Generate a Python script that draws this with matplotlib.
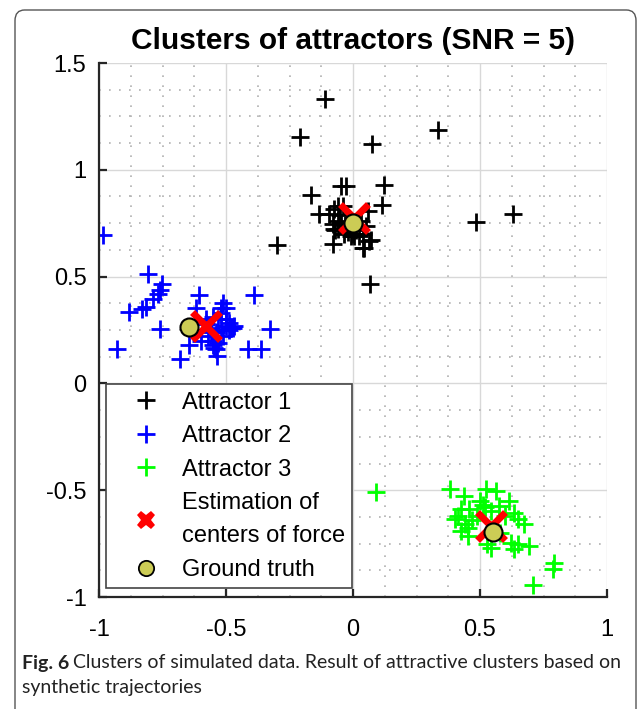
import numpy as np
import matplotlib.pyplot as plt
from matplotlib.lines import Line2D
from matplotlib.patches import FancyBboxPatch
from matplotlib.ticker import MultipleLocator

# Attractor 1 (black)
x1 = [-0.11, -0.21, 0.075, 0.335, -0.30, -0.165, -0.047, -0.028, 0.123, 0.114,
      -0.133, -0.093, -0.073, 0.484, 0.631, -0.078, 0.045, 0.071, 0.068, -0.06,
      -0.07, -0.008, 0.025, 0.051, -0.047, -0.06, -0.04, -0.02, 0.0, -0.03,
      0.01, -0.05, 0.03, -0.08, -0.073, -0.035, 0.004, 0.038, 0.064, 0.038,
      0.058, -0.06]
y1 = [1.33, 1.155, 1.12, 1.185, 0.648, 0.88, 0.924, 0.924, 0.927, 0.834,
      0.793, 0.793, 0.815, 0.757, 0.795, 0.651, 0.636, 0.67, 0.467, 0.721,
      0.72, 0.69, 0.69, 0.737, 0.752, 0.83, 0.83, 0.71, 0.70, 0.74,
      0.72, 0.79, 0.76, 0.745, 0.721, 0.698, 0.69, 0.698, 0.666, 0.636,
      0.807, 0.76]

# Attractor 2 (blue)
x2 = [-0.983, -0.806, -0.752, -0.758, -0.769, -0.787, -0.815, -0.831, -0.881, -0.758,
      -0.929, -0.605, -0.618, -0.52, -0.50, -0.389, -0.326, -0.415, -0.362, -0.68,
      -0.644, -0.539, -0.537, -0.56, -0.54, -0.52, -0.50, -0.51, -0.55, -0.57,
      -0.53, -0.49, -0.48, -0.50, -0.52, -0.55, -0.58, -0.60, -0.55, -0.53,
      -0.47, -0.56, -0.58, -0.513, -0.487, -0.474, -0.546]
y2 = [0.695, 0.514, 0.464, 0.436, 0.417, 0.393, 0.359, 0.347, 0.336, 0.253,
      0.162, 0.412, 0.354, 0.354, 0.354, 0.412, 0.253, 0.162, 0.162, 0.115,
      0.178, 0.159, 0.13, 0.26, 0.24, 0.25, 0.27, 0.22, 0.20, 0.22,
      0.30, 0.25, 0.26, 0.30, 0.33, 0.31, 0.30, 0.20, 0.18, 0.19,
      0.27, 0.24, 0.28, 0.378, 0.284, 0.261, 0.167]

# Attractor 3 (green)
x3 = [0.09, 0.382, 0.436, 0.524, 0.563, 0.501, 0.615, 0.425, 0.458, 0.412,
      0.402, 0.451, 0.543, 0.52, 0.633, 0.648, 0.672, 0.622, 0.648, 0.694,
      0.635, 0.528, 0.543, 0.793, 0.786, 0.71, 0.576, 0.60, 0.425, 0.454,
      0.47, 0.49, 0.44, 0.51, 0.58]
y3 = [-0.51, -0.496, -0.525, -0.496, -0.504, -0.551, -0.551, -0.59, -0.59, -0.621,
      -0.637, -0.676, -0.598, -0.58, -0.606, -0.637, -0.656, -0.746, -0.754, -0.762,
      -0.777, -0.754, -0.77, -0.84, -0.868, -0.946, -0.575, -0.62, -0.69, -0.715,
      -0.64, -0.62, -0.66, -0.57, -0.70]

# estimated centers of force and ground truth
est_x = [0.005, -0.58, 0.543]
est_y = [0.773, 0.268, -0.668]
true_x = [0.0, -0.645, 0.55]
true_y = [0.75, 0.262, -0.697]

olive = '#cccc55'
plt.rcParams['font.family'] = ['Liberation Sans', 'DejaVu Sans']

fig = plt.figure(figsize=(6.39, 7.09), dpi=100)

# rounded frame around the figure
frame = FancyBboxPatch((15 / 639, -0.1), 621 / 639, 0.1 + 699 / 709,
                       boxstyle='round,pad=0,rounding_size=0.015',
                       transform=fig.transFigure, fill=False,
                       edgecolor='#555555', linewidth=1.0)
fig.patches.append(frame)

ax = fig.add_axes([99 / 639, 1 - 597 / 709, 508 / 639, 534 / 709])

ms_plus = 13
ax.plot(x1, y1, '+', color='black', ms=ms_plus, mew=2, ls='none')
ax.plot(x2, y2, '+', color='blue', ms=ms_plus, mew=2, ls='none')
ax.plot(x3, y3, '+', color='#00ff00', ms=ms_plus, mew=2, ls='none')
ax.plot(est_x, est_y, 'x', color='red', ms=20, mew=5, ls='none')
ax.plot(true_x, true_y, 'o', mfc=olive, mec='black', ms=13, mew=1.5, ls='none')

ax.set_xlim(-1, 1)
ax.set_ylim(-1, 1.5)
ax.xaxis.set_minor_locator(MultipleLocator(0.125))
ax.yaxis.set_minor_locator(MultipleLocator(0.125))
ax.set_xticks([-1, -0.5, 0, 0.5, 1], ['-1', '-0.5', '0', '0.5', '1'])
ax.set_yticks([-1, -0.5, 0, 0.5, 1, 1.5], ['-1', '-0.5', '0', '0.5', '1', '1.5'])

ax.grid(True, which='major', color='#d8d8d8', lw=1.0, ls='-')
ax.grid(True, which='minor', color='#b0b0b0', lw=1.2, ls=(0, (1, 5)))
ax.set_axisbelow(True)

for side in ['top', 'right']:
    ax.spines[side].set_visible(False)
for side in ['left', 'bottom']:
    ax.spines[side].set_color('#262626')
    ax.spines[side].set_linewidth(1.6)

ax.tick_params(which='major', direction='in', length=6, width=1.6,
               color='#262626', labelsize=17)
ax.tick_params(which='minor', length=0)
ax.tick_params(axis='x', pad=16)
ax.tick_params(axis='y', pad=9)

ax.set_title('Clusters of attractors (SNR = 5)', fontsize=21.5,
             fontweight='bold', pad=10)

handles = [
    Line2D([], [], marker='+', color='black', ms=13, mew=2, ls='none'),
    Line2D([], [], marker='+', color='blue', ms=13, mew=2, ls='none'),
    Line2D([], [], marker='+', color='#00ff00', ms=13, mew=2, ls='none'),
    Line2D([], [], marker='X', color='red', ms=13, mew=0, ls='none'),
    Line2D([], [], marker='o', mfc=olive, mec='black', ms=11, mew=1.3, ls='none'),
]
labels = ['Attractor 1', 'Attractor 2', 'Attractor 3',
          'Estimation of\ncenters of force', 'Ground truth']
leg = ax.legend(handles, labels, loc='lower left', fontsize=17,
                bbox_to_anchor=(0.014, 0.017), borderaxespad=0,
                fancybox=False, framealpha=1, edgecolor='#444444',
                handlelength=2.8, handletextpad=0.1, labelspacing=0.49,
                borderpad=0.3)
leg.get_frame().set_linewidth(1.2)
leg.get_texts()[3].set_linespacing(1.65)

# caption below the chart
cap_y1 = 1 - 663 / 709
cap_y2 = 1 - 688 / 709
bold = fig.text(22 / 639, cap_y1, 'Fig. 6', fontsize=14, family='Lato',
                fontweight='bold', color='#222222', va='center')
fig.canvas.draw()
bb = bold.get_window_extent().transformed(fig.transFigure.inverted())
fig.text(bb.x1 + 4 / 639, cap_y1,
         'Clusters of simulated data. Result of attractive clusters based on',
         fontsize=14, family='Lato', color='#222222', va='center')
fig.text(22 / 639, cap_y2, 'synthetic trajectories',
         fontsize=14, family='Lato', color='#222222', va='center')

fig.savefig('out.png', dpi=100)
